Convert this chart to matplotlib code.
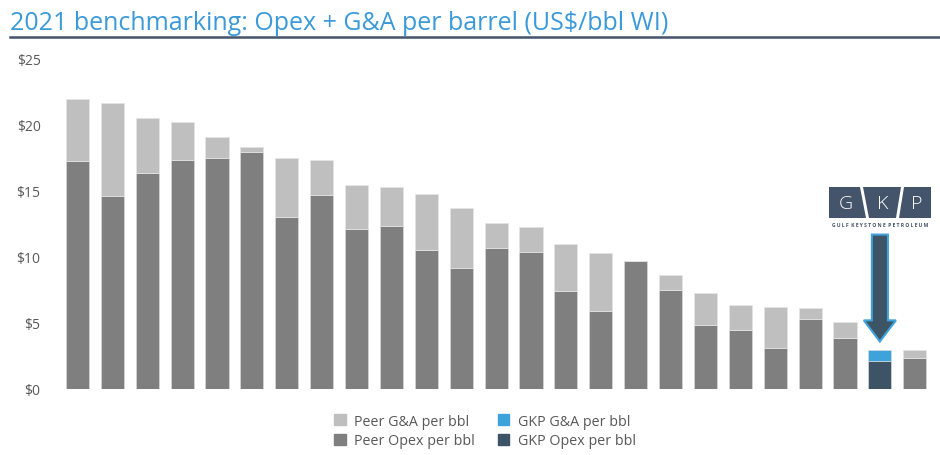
import numpy as np
import matplotlib.pyplot as plt
from matplotlib.patches import Polygon, FancyArrow
from matplotlib.lines import Line2D

# ----------------------------
# Data
# ----------------------------
# peer bars, left to right (None = the GKP slot)
peer_opex = [17.3, 14.6, 16.4, 17.35, 17.5, 17.95, 13.0, 14.7, 12.15, 12.35,
             10.55, 9.15, 10.7, 10.35, 7.4, 5.9, 9.7, 7.5, 4.85, 4.5,
             3.1, 5.3, 3.9, None, 2.35]
peer_total = [21.95, 21.65, 20.5, 20.2, 19.1, 18.3, 17.5, 17.35, 15.45, 15.3,
              14.75, 13.75, 12.55, 12.3, 10.95, 10.3, 9.7, 8.6, 7.25, 6.4,
              6.25, 6.1, 5.1, None, 2.95]
gkp_index = 23
gkp_opex = 2.1
gkp_total = 2.95

y_ticks = [0, 5, 10, 15, 20, 25]
y_labels = ['$0', '$5', '$10', '$15', '$20', '$25']

title = '2021 benchmarking: Opex + G&A per barrel (US$/bbl WI)'
legend_labels = ['Peer G&A per bbl', 'Peer Opex per bbl', 'GKP G&A per bbl', 'GKP Opex per bbl']

C_PEER_GA = '#bfbfbf'
C_PEER_OPEX = '#7f7f7f'
C_GKP_GA = '#3fa3db'
C_GKP_OPEX = '#3d5366'
C_TEXT = '#595959'
C_NAVY = '#44546a'

plt.rcParams['font.family'] = ['Open Sans', 'DejaVu Sans']

W, H = 940, 456
fig = plt.figure(figsize=(W / 100, H / 100), dpi=100)


def fx(px):
    return px / W


def fy(py):
    return 1 - py / H


ax = fig.add_axes([fx(60), fy(390), fx(935) - fx(60), fy(60) - fy(390)])

# ----------------------------
# Bars
# ----------------------------
n = len(peer_opex)
x = np.arange(n)
peer_mask = np.array([v is not None for v in peer_opex])
opex = np.array([v if v is not None else 0 for v in peer_opex])
total = np.array([v if v is not None else 0 for v in peer_total])
ga = total - opex

bw = 0.66
ax.bar(x[peer_mask], opex[peer_mask], width=bw, color=C_PEER_OPEX,
       edgecolor='#d9d9d9', linewidth=0.5)
ax.bar(x[peer_mask], ga[peer_mask], bottom=opex[peer_mask], width=bw,
       color=C_PEER_GA, edgecolor='#e6e6e6', linewidth=0.5)
ax.bar([gkp_index], [gkp_opex], width=bw, color=C_GKP_OPEX, edgecolor='#d9d9d9', linewidth=0.5)
ax.bar([gkp_index], [gkp_total - gkp_opex], bottom=[gkp_opex], width=bw,
       color=C_GKP_GA, edgecolor='#d9d9d9', linewidth=0.5)

ax.set_xlim(-0.5, n - 0.42)
ax.set_ylim(0, 25)
ax.set_yticks(y_ticks)
ax.set_yticklabels(y_labels, color=C_TEXT, fontsize=10)
ax.set_xticks([])
ax.tick_params(axis='y', length=0, pad=14)
for s in ax.spines.values():
    s.set_visible(False)

# arrow pointing at GKP bar
ax.add_patch(FancyArrow(gkp_index, 11.7, 0, -8.1, width=0.46, head_width=0.92,
                        head_length=1.6, length_includes_head=True,
                        facecolor=C_GKP_OPEX, edgecolor=C_GKP_GA, linewidth=1.5,
                        clip_on=False, zorder=5))

# ----------------------------
# GKP logo
# ----------------------------
panels = [
    [(829, 188), (860, 188), (866, 219), (829, 219)],
    [(863, 188), (901, 188), (896, 219), (869, 219)],
    [(904, 188), (931, 188), (931, 219), (899, 219)],
]
for pts, letter in zip(panels, ['G', 'K', 'P']):
    fig.patches.append(Polygon([(fx(a), fy(b)) for a, b in pts], closed=True,
                               transform=fig.transFigure, facecolor=C_NAVY,
                               edgecolor='none'))
    cx = np.mean([p[0] for p in pts])
    fig.text(fx(cx), fy(204), letter, color='white', fontsize=14,
             fontweight='light', ha='center', va='center')
fig.text(fx(880), fy(226), 'G U L F  K E Y S T O N E  P E T R O L E U M', color=C_NAVY,
         fontsize=3.6, fontweight='bold', ha='center', va='center')

# ----------------------------
# Title, rule, legend
# ----------------------------
fig.text(fx(10), fy(30), title, color='#3a9ad9', fontsize=18, ha='left',
         va='baseline')
fig.add_artist(Line2D([fx(10), 1], [fy(38), fy(38)], color=C_NAVY, linewidth=1.8))

handles = [plt.Rectangle((0, 0), 1, 1, color=c)
           for c in [C_PEER_GA, C_PEER_OPEX, C_GKP_GA, C_GKP_OPEX]]
fig.legend(handles, legend_labels, ncol=2, loc='center', bbox_to_anchor=(fx(485), fy(432)),
           frameon=False, fontsize=10.3, labelcolor=C_TEXT, handlelength=0.8,
           handleheight=0.8, handletextpad=0.6, columnspacing=1.6, labelspacing=0.3)

fig.savefig('out.png', dpi=100)
